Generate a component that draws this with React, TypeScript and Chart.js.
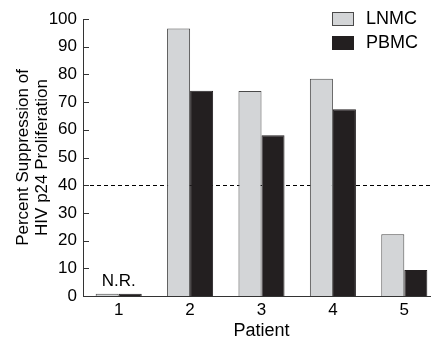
import React, { useEffect, useRef } from "react";
import { Chart, registerables } from "chart.js";

Chart.register(...registerables);

const patients = ["1", "2", "3", "4", "5"];
const lnmcValues = [0.8, 96.6, 74.0, 78.4, 22.3];
const pbmcValues = [0.8, 74.1, 58.0, 67.4, 9.4];
const thresholdValue = 40;
const yTickValues = [0, 10, 20, 30, 40, 50, 60, 70, 80, 90, 100];
const seriesNames = ["LNMC", "PBMC"];
const noResponseLabel = "N.R.";

const FONT = "'Liberation Sans', Arial, Helvetica, sans-serif";

Chart.defaults.font.family = FONT;
Chart.defaults.font.size = 17;
Chart.defaults.color = "#000";

const overlayPlugin = {
  id: "overlay",
  beforeDatasetsDraw(chart: any) {
    const { ctx, chartArea, scales } = chart;
    const y = Math.round(scales.y.getPixelForValue(thresholdValue)) + 0.5;
    ctx.save();
    ctx.strokeStyle = "#000";
    ctx.lineWidth = 1;
    ctx.setLineDash([4, 3]);
    ctx.beginPath();
    ctx.moveTo(chartArea.left, y);
    ctx.lineTo(chart.width, y);
    ctx.stroke();
    ctx.setLineDash([]);
    // inward tick marks on the y axis
    ctx.strokeStyle = "#333";
    ctx.beginPath();
    yTickValues.forEach((v) => {
      const ty = Math.round(scales.y.getPixelForValue(v)) + 0.5;
      ctx.moveTo(chartArea.left, ty);
      ctx.lineTo(chartArea.left + 6, ty);
    });
    ctx.stroke();
    ctx.restore();
  },
  afterDatasetsDraw(chart: any) {
    const { ctx, scales } = chart;
    ctx.save();
    ctx.fillStyle = "#000";
    ctx.font = `17px ${FONT}`;
    ctx.textAlign = "center";
    ctx.textBaseline = "alphabetic";
    const x = scales.x.getPixelForValue(0);
    const yTop = scales.y.getPixelForValue(Math.max(lnmcValues[0], pbmcValues[0]));
    ctx.fillText(noResponseLabel, x, yTop - 8);

    // legend
    const items = [
      { label: seriesNames[0], fill: "#d3d5d7", stroke: "#4a4a4a" },
      { label: seriesNames[1], fill: "#231f20", stroke: "#231f20" },
    ];
    ctx.font = `18px ${FONT}`;
    items.forEach((it, i) => {
      const by = 12.5 + i * 24;
      ctx.fillStyle = it.fill;
      ctx.fillRect(332.5, by, 21, 13);
      ctx.strokeStyle = it.stroke;
      ctx.lineWidth = 1;
      ctx.strokeRect(332.5, by, 21, 13);
      ctx.fillStyle = "#000";
      ctx.textAlign = "left";
      ctx.textBaseline = "middle";
      ctx.fillText(it.label, 366, by + 7);
    });
    ctx.restore();
  },
};

export default function App() {
  const ref = useRef<HTMLCanvasElement>(null);

  useEffect(() => {
    document.body.style.margin = "0";
    const canvas = ref.current!;
    const tickFont = { family: FONT, size: 17 };
    const chart = new Chart(canvas, {
      type: "bar",
      data: {
        labels: patients,
        datasets: [
          {
            label: seriesNames[0],
            data: lnmcValues,
            backgroundColor: "#d3d5d7",
            borderColor: "#4a4a4a",
            borderWidth: 1,
            categoryPercentage: 0.645,
            barPercentage: 1,
          },
          {
            label: seriesNames[1],
            data: pbmcValues,
            backgroundColor: "#231f20",
            borderColor: "#231f20",
            borderWidth: 1,
            categoryPercentage: 0.645,
            barPercentage: 1,
          },
        ],
      },
      options: {
        responsive: false,
        animation: false,
        layout: { padding: { top: 19, left: 0, right: 0, bottom: 0 } },
        plugins: {
          legend: { display: false },
          tooltip: { enabled: false },
        },
        scales: {
          x: {
            grid: { display: false, drawTicks: false },
            border: { display: true, color: "#333", width: 1 },
            ticks: { color: "#000", font: tickFont, padding: 4 },
            title: {
              display: true,
              text: "Patient",
              color: "#000",
              font: { family: FONT, size: 18 },
              padding: { top: 0, bottom: -3 },
            },
            afterFit(scale: any) {
              scale.height = 43;
            },
          },
          y: {
            min: 0,
            max: 100,
            afterBuildTicks(scale: any) {
              scale.ticks = yTickValues.map((v) => ({ value: v }));
            },
            grid: { display: false, drawTicks: false },
            border: { display: true, color: "#333", width: 1 },
            ticks: { color: "#000", font: tickFont, padding: 6 },
            title: {
              display: true,
              text: ["Percent Suppression of", "HIV p24 Proliferation"],
              color: "#000",
              font: { family: FONT, size: 17, lineHeight: 1.12 },
              padding: { top: 14, bottom: 0 },
            },
            afterFit(scale: any) {
              scale.width = 83;
            },
          },
        },
      },
      plugins: [overlayPlugin],
    });
    return () => chart.destroy();
  }, []);

  return (
    <div style={{ width: 431, height: 339, overflow: "hidden", position: "relative" }}>
      <canvas ref={ref} width={440} height={339} style={{ display: "block" }} />
    </div>
  );
}
